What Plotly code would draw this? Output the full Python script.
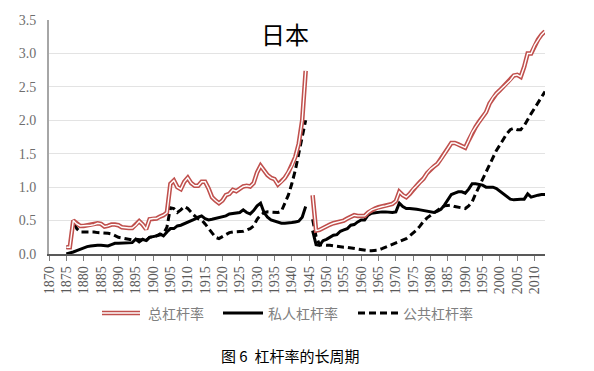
import plotly.graph_objects as go

# ---------------- data ----------------
years_pre = list(range(1875, 1945))
years_post = list(range(1946, 2014))

total_pre = [0.10, 0.10, 0.50, 0.45, 0.42, 0.42, 0.43, 0.43, 0.44, 0.46,
             0.45, 0.41, 0.42, 0.44, 0.44, 0.43, 0.40, 0.39, 0.39, 0.39,
             0.43, 0.49, 0.44, 0.37, 0.52, 0.53, 0.53, 0.56, 0.58, 0.62,
             1.05, 1.10, 1.00, 0.97, 1.08, 1.14, 1.06, 1.02, 1.02, 1.08,
             1.08, 0.98, 0.85, 0.80, 0.76, 0.80, 0.88, 0.90, 0.96, 0.94,
             0.98, 1.01, 1.02, 1.01, 1.06, 1.22, 1.32, 1.25, 1.18, 1.14,
             1.12, 1.04, 1.08, 1.14, 1.22, 1.32, 1.45, 1.65, 2.00, 2.74]
private_pre = [0.00, 0.01, 0.03, 0.05, 0.07, 0.10, 0.11, 0.12, 0.13, 0.13,
               0.13, 0.12, 0.12, 0.14, 0.16, 0.16, 0.16, 0.16, 0.16, 0.17,
               0.22, 0.18, 0.22, 0.20, 0.25, 0.26, 0.27, 0.30, 0.27, 0.33,
               0.38, 0.38, 0.42, 0.43, 0.45, 0.47, 0.50, 0.52, 0.55, 0.57,
               0.53, 0.51, 0.52, 0.53, 0.55, 0.56, 0.57, 0.60, 0.61, 0.61,
               0.62, 0.66, 0.62, 0.60, 0.65, 0.72, 0.76, 0.62, 0.55, 0.51,
               0.49, 0.47, 0.46, 0.46, 0.46, 0.47, 0.48, 0.49, 0.55, 0.71]
public_pre = [0.10, 0.10, 0.49, 0.38, 0.33, 0.33, 0.34, 0.33, 0.33, 0.32,
              0.32, 0.31, 0.31, 0.30, 0.27, 0.25, 0.24, 0.23, 0.22, 0.21,
              0.22, 0.22, 0.21, 0.20, 0.25, 0.26, 0.27, 0.28, 0.30, 0.40,
              0.69, 0.68, 0.62, 0.66, 0.71, 0.68, 0.62, 0.57, 0.53, 0.51,
              0.45, 0.38, 0.31, 0.25, 0.23, 0.26, 0.29, 0.32, 0.33, 0.33,
              0.34, 0.34, 0.36, 0.38, 0.42, 0.52, 0.58, 0.62, 0.63, 0.63,
              0.63, 0.62, 0.64, 0.75, 0.88, 1.05, 1.25, 1.50, 1.78, 2.00]

total_post = [0.88, 0.35, 0.36, 0.39, 0.42, 0.44, 0.46, 0.47, 0.49, 0.50,
              0.53, 0.56, 0.58, 0.57, 0.57, 0.57, 0.62, 0.66, 0.68, 0.70,
              0.71, 0.72, 0.73, 0.75, 0.79, 0.93, 0.88, 0.85, 0.90, 0.97,
              1.02, 1.08, 1.13, 1.21, 1.27, 1.31, 1.35, 1.42, 1.50, 1.58,
              1.66, 1.66, 1.64, 1.62, 1.59, 1.70, 1.82, 1.90, 1.98, 2.05,
              2.12, 2.25, 2.34, 2.40, 2.45, 2.50, 2.55, 2.60, 2.67, 2.68,
              2.65, 2.80, 3.00, 3.00, 3.12, 3.21, 3.28, 3.33]
private_post = [0.35, 0.14, 0.13, 0.20, 0.22, 0.25, 0.28, 0.29, 0.34, 0.36,
                0.38, 0.43, 0.44, 0.48, 0.51, 0.51, 0.58, 0.61, 0.62, 0.63,
                0.63, 0.63, 0.62, 0.62, 0.63, 0.76, 0.71, 0.68, 0.68, 0.68,
                0.67, 0.66, 0.65, 0.64, 0.63, 0.62, 0.64, 0.67, 0.73, 0.82,
                0.89, 0.91, 0.93, 0.93, 0.91, 0.97, 1.05, 1.05, 1.04, 1.03,
                1.00, 1.00, 1.00, 0.98, 0.94, 0.90, 0.86, 0.82, 0.81, 0.82,
                0.82, 0.82, 0.90, 0.85, 0.87, 0.88, 0.89, 0.89]
public_post = [0.52, 0.26, 0.14, 0.13, 0.13, 0.13, 0.12, 0.11, 0.11, 0.10,
               0.10, 0.09, 0.08, 0.07, 0.06, 0.05, 0.05, 0.05, 0.05, 0.06,
               0.08, 0.10, 0.12, 0.14, 0.16, 0.18, 0.20, 0.23, 0.27, 0.31,
               0.36, 0.42, 0.49, 0.54, 0.58, 0.62, 0.66, 0.69, 0.72, 0.73,
               0.73, 0.71, 0.70, 0.69, 0.68, 0.72, 0.78, 0.90, 1.01, 1.12,
               1.22, 1.35, 1.46, 1.55, 1.63, 1.72, 1.80, 1.86, 1.88, 1.86,
               1.86, 1.92, 2.02, 2.10, 2.18, 2.26, 2.35, 2.43]

series_names = ["总杠杆率", "私人杠杆率", "公共杠杆率"]
x_ticks = list(range(1870, 2011, 5))
y_ticks = [0.0, 0.5, 1.0, 1.5, 2.0, 2.5, 3.0, 3.5]
chart_title = "日本"
caption = "图 6  杠杆率的长周期"

years = years_pre + [1945] + years_post
total = total_pre + [None] + total_post
private = private_pre + [None] + private_post
public = public_pre + [None] + public_post

RED = "#c0504d"
fig = go.Figure()
fig.add_trace(go.Scatter(x=years, y=public, mode="lines", name=series_names[2],
                         line=dict(color="black", width=3, dash="7px,4px"),
                         connectgaps=False, showlegend=False))
fig.add_trace(go.Scatter(x=years, y=private, mode="lines", name=series_names[1],
                         line=dict(color="black", width=3),
                         connectgaps=False, showlegend=False))
fig.add_trace(go.Scatter(x=years, y=total, mode="lines", name=series_names[0],
                         line=dict(color=RED, width=4.5),
                         connectgaps=False, showlegend=False))
fig.add_trace(go.Scatter(x=years, y=total, mode="lines", name=series_names[0],
                         line=dict(color="white", width=1.4),
                         connectgaps=False, showlegend=False, hoverinfo="skip"))

# The page has an 8px body margin; target positions are in window pixels.
OFF = 8
W, H = 594 - OFF, 371 - OFF
# plot area in window pixels: x 49..545, y 20..254
L, R, T, B = 49, 545, 20, 254
def px(x):
    return (x - L) / (R - L)
def py(y):
    return (B - y) / (B - T)

shapes = []
ly = py(313)
shapes.append(dict(type="line", xref="paper", yref="paper", x0=px(102), x1=px(140), y0=ly, y1=ly,
                   line=dict(color=RED, width=4.5)))
shapes.append(dict(type="line", xref="paper", yref="paper", x0=px(102), x1=px(140), y0=ly, y1=ly,
                   line=dict(color="white", width=1.4)))
shapes.append(dict(type="line", xref="paper", yref="paper", x0=px(223), x1=px(263), y0=ly, y1=ly,
                   line=dict(color="black", width=3)))
shapes.append(dict(type="line", xref="paper", yref="paper", x0=px(358), x1=px(398), y0=ly, y1=ly,
                   line=dict(color="black", width=3, dash="7px,4px")))

legend_font = dict(size=14, color="#808080", family="Noto Sans CJK SC")
annotations = [
    dict(text=chart_title, xref="paper", yref="paper", x=px(285), y=py(33),
         xanchor="center", yanchor="middle",
         showarrow=False, font=dict(size=24, color="black", family="Noto Sans CJK SC")),
    dict(text=series_names[0], xref="paper", yref="paper", x=px(146), y=ly,
         xanchor="left", yanchor="middle", showarrow=False, font=legend_font),
    dict(text=series_names[1], xref="paper", yref="paper", x=px(266), y=ly,
         xanchor="left", yanchor="middle", showarrow=False, font=legend_font),
    dict(text=series_names[2], xref="paper", yref="paper", x=px(401), y=ly,
         xanchor="left", yanchor="middle", showarrow=False, font=legend_font),
    dict(text=caption, xref="paper", yref="paper", x=px(290), y=py(355),
         xanchor="center", yanchor="middle",
         showarrow=False, font=dict(size=15, color="black", family="Noto Sans CJK SC")),
]

fig.update_layout(
    width=W, height=H,
    margin=dict(l=L - OFF, r=W - (R - OFF), t=T - OFF, b=H - (B - OFF), autoexpand=False),
    paper_bgcolor="white", plot_bgcolor="white",
    shapes=shapes, annotations=annotations,
    showlegend=False,
)
fig.update_xaxes(range=[1870, 2013], tickmode="array", tickvals=x_ticks,
                 ticktext=[str(v) for v in x_ticks], tickangle=-90,
                 ticks="outside", ticklen=5, tickcolor="#7f7f7f", tickwidth=1,
                 showline=True, linecolor="#595959", linewidth=1.5,
                 showgrid=False, zeroline=False,
                 tickfont=dict(family="Liberation Serif", size=14, color="#595959"))
fig.update_yaxes(range=[0, 3.5], tickmode="array", tickvals=y_ticks,
                 ticktext=[f"{v:.1f}" for v in y_ticks],
                 showline=True, linecolor="#a6a6a6", linewidth=2,
                 showgrid=True, gridcolor="#e3e3e3", gridwidth=1,
                 zeroline=False, ticks="", ticklabelstandoff=8,
                 tickfont=dict(family="Liberation Serif", size=14, color="#6e6e6e"))

fig.write_html("out.html")
